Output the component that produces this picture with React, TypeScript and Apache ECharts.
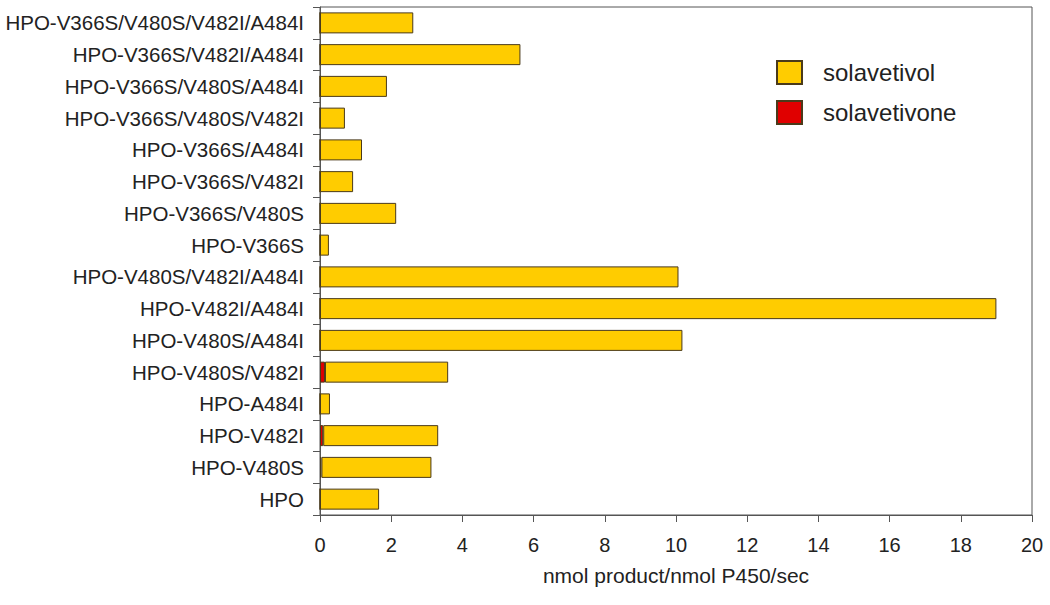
import React, { useEffect, useRef } from "react";
import * as echarts from "echarts";

const categories = [
  "HPO-V366S/V480S/V482I/A484I",
  "HPO-V366S/V482I/A484I",
  "HPO-V366S/V480S/A484I",
  "HPO-V366S/V480S/V482I",
  "HPO-V366S/A484I",
  "HPO-V366S/V482I",
  "HPO-V366S/V480S",
  "HPO-V366S",
  "HPO-V480S/V482I/A484I",
  "HPO-V482I/A484I",
  "HPO-V480S/A484I",
  "HPO-V480S/V482I",
  "HPO-A484I",
  "HPO-V482I",
  "HPO-V480S",
  "HPO",
];

const solavetivone = [0, 0, 0, 0, 0, 0, 0, 0, 0, 0, 0, 0.14, 0, 0.09, 0.04, 0];
const solavetivol = [2.62, 5.63, 1.88, 0.7, 1.18, 0.93, 2.14, 0.25, 10.07, 19.0, 10.18, 3.46, 0.28, 3.23, 3.09, 1.66];

const xTicks = [0, 20, 2];

export default function App() {
  const ref = useRef<HTMLDivElement>(null);
  useEffect(() => {
    const chart = echarts.init(ref.current!, null, { renderer: "svg" });
    const font = "Liberation Sans, Arial, sans-serif";
    chart.setOption({
      animation: false,
      backgroundColor: "#ffffff",
      grid: {
        left: 320,
        right: 18,
        top: 7,
        bottom: 90,
        show: true,
        borderColor: "#555555",
        borderWidth: 1,
        backgroundColor: "transparent",
      },
      legend: {
        data: ["solavetivol", "solavetivone"],
        orient: "vertical",
        left: 771,
        top: 55,
        itemWidth: 25,
        itemHeight: 23,
        itemGap: 15,
        icon: "rect",
        textStyle: { fontFamily: font, fontSize: 24, color: "#222", padding: [0, 0, 0, 16] },
      },
      xAxis: {
        type: "value",
        min: xTicks[0],
        max: xTicks[1],
        interval: xTicks[2],
        name: "nmol product/nmol P450/sec",
        nameLocation: "middle",
        nameGap: 50,
        nameTextStyle: { fontFamily: font, fontSize: 21, color: "#222" },
        axisLine: { show: true, lineStyle: { color: "#555555", width: 1 } },
        axisTick: { show: true, length: 7, lineStyle: { color: "#555555" } },
        axisLabel: { fontFamily: font, fontSize: 20, color: "#222", margin: 20 },
        splitLine: { show: false },
      },
      yAxis: {
        type: "category",
        data: categories,
        inverse: true,
        axisLine: { show: true, lineStyle: { color: "#555555", width: 1 } },
        axisTick: { show: true, length: 7, lineStyle: { color: "#555555" } },
        axisLabel: { fontFamily: font, fontSize: 20.5, color: "#222", margin: 16 },
      },
      series: [
        {
          name: "solavetivone",
          type: "bar",
          stack: "total",
          barWidth: 21,
          data: solavetivone,
          itemStyle: { color: "#E00000", borderColor: "#4a3a1a", borderWidth: 1 },
        },
        {
          name: "solavetivol",
          type: "bar",
          stack: "total",
          barWidth: 21,
          data: solavetivol,
          itemStyle: { color: "#FFCC00", borderColor: "#4a3a1a", borderWidth: 1 },
        },
      ],
    });
    return () => chart.dispose();
  }, []);
  return (
    <div
      ref={ref}
      style={{ position: "fixed", left: 0, top: 0, width: 1050, height: 605 }}
    />
  );
}
